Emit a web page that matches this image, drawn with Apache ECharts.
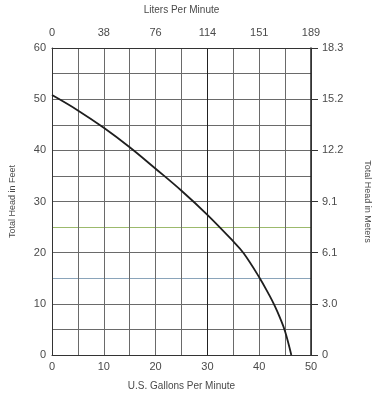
<!DOCTYPE html>
<html>
<head>
<meta charset="utf-8">
<script src="https://cdn.jsdelivr.net/npm/echarts@6/dist/echarts.min.js"></script>
<style>html,body{margin:0;padding:0;background:#fff}#c{width:380px;height:396px}</style>
</head>
<body>
<div id="c"></div>
<script>
// Pump curve: U.S. gallons per minute vs total head in feet
const gpm  = [0, 5, 10, 15, 20, 25, 30, 35, 37, 40, 42, 43, 44, 45, 46.2];
const head = [50.8, 47.8, 44.4, 40.6, 36.4, 32.1, 27.4, 22.2, 19.9, 15.2, 11.6, 9.6, 7.3, 4.6, 0];
// Secondary tick labels
const litersLabels = ['0', '38', '76', '114', '151', '189'];
const metersLabels = ['0', '3.0', '6.1', '9.1', '12.2', '15.2', '18.3'];

const FONT = 'Liberation Sans';
const TXT = '#4a4a4a';
const G = '#6a6a6a';

const xLineColors = [G, G, G, G, G, G, '#222', G, G, G, G];
const yLineColors = [G, G, G, '#8aa4ba', G, '#9cba6c', G, G, G, G, G, G, G];

const chart = echarts.init(document.getElementById('c'));
chart.setOption({
  animation: false,
  backgroundColor: '#fff',
  grid: { left: 52, right: 67, top: 48, bottom: 40 },
  xAxis: [{
    type: 'value', position: 'bottom', min: 0, max: 50, interval: 5,
    name: 'U.S. Gallons Per Minute', nameLocation: 'middle', nameGap: 26,
    nameTextStyle: { fontFamily: FONT, fontSize: 10, color: TXT },
    axisLine: { show: true, onZero: false, lineStyle: { color: '#333', width: 1 } },
    axisTick: { show: false },
    axisLabel: { fontFamily: FONT, fontSize: 11, color: TXT, margin: 6,
      formatter: v => (v % 10 === 0 ? String(v) : '') },
    splitLine: { show: true, lineStyle: { color: xLineColors, width: 1 } }
  }, {
    type: 'value', position: 'top', min: 0, max: 50, interval: 10,
    name: 'Liters Per Minute', nameLocation: 'middle', nameGap: 33,
    nameTextStyle: { fontFamily: FONT, fontSize: 10, color: TXT },
    axisLine: { show: true, onZero: false, lineStyle: { color: '#333', width: 1 } },
    axisTick: { show: false },
    axisLabel: { fontFamily: FONT, fontSize: 11, color: TXT, margin: 10,
      formatter: v => litersLabels[Math.round(v / 10)] },
    splitLine: { show: false }
  }],
  yAxis: [{
    type: 'value', position: 'left', min: 0, max: 60, interval: 5,
    name: 'Total Head in Feet', nameLocation: 'middle', nameGap: 35,
    nameTextStyle: { fontFamily: FONT, fontSize: 9, color: TXT },
    axisLine: { show: true, onZero: false, lineStyle: { color: '#333', width: 1 } },
    axisTick: { show: false },
    axisLabel: { fontFamily: FONT, fontSize: 11, color: TXT, margin: 6,
      formatter: v => (v % 10 === 0 ? String(v) : '') },
    splitLine: { show: true, lineStyle: { color: yLineColors, width: 1 } }
  }, {
    type: 'value', position: 'right', min: 0, max: 60, interval: 10,
    name: 'Total Head in Meters', nameLocation: 'middle', nameGap: 52, nameRotate: -90,
    nameTextStyle: { fontFamily: FONT, fontSize: 9, color: TXT },
    axisLine: { show: true, onZero: false, lineStyle: { color: '#222', width: 1.5 } },
    axisTick: { show: true, inside: false, length: 7, lineStyle: { color: '#333' } },
    axisLabel: { fontFamily: FONT, fontSize: 11, color: TXT, margin: 11,
      formatter: v => metersLabels[Math.round(v / 10)] },
    splitLine: { show: false }
  }],
  series: [{
    type: 'line', xAxisIndex: 0, yAxisIndex: 0,
    data: gpm.map((g, i) => [g, head[i]]),
    smooth: 0.4, symbol: 'none',
    lineStyle: { color: '#1e1e1e', width: 1.8 }
  }]
});
</script>
</body>
</html>
